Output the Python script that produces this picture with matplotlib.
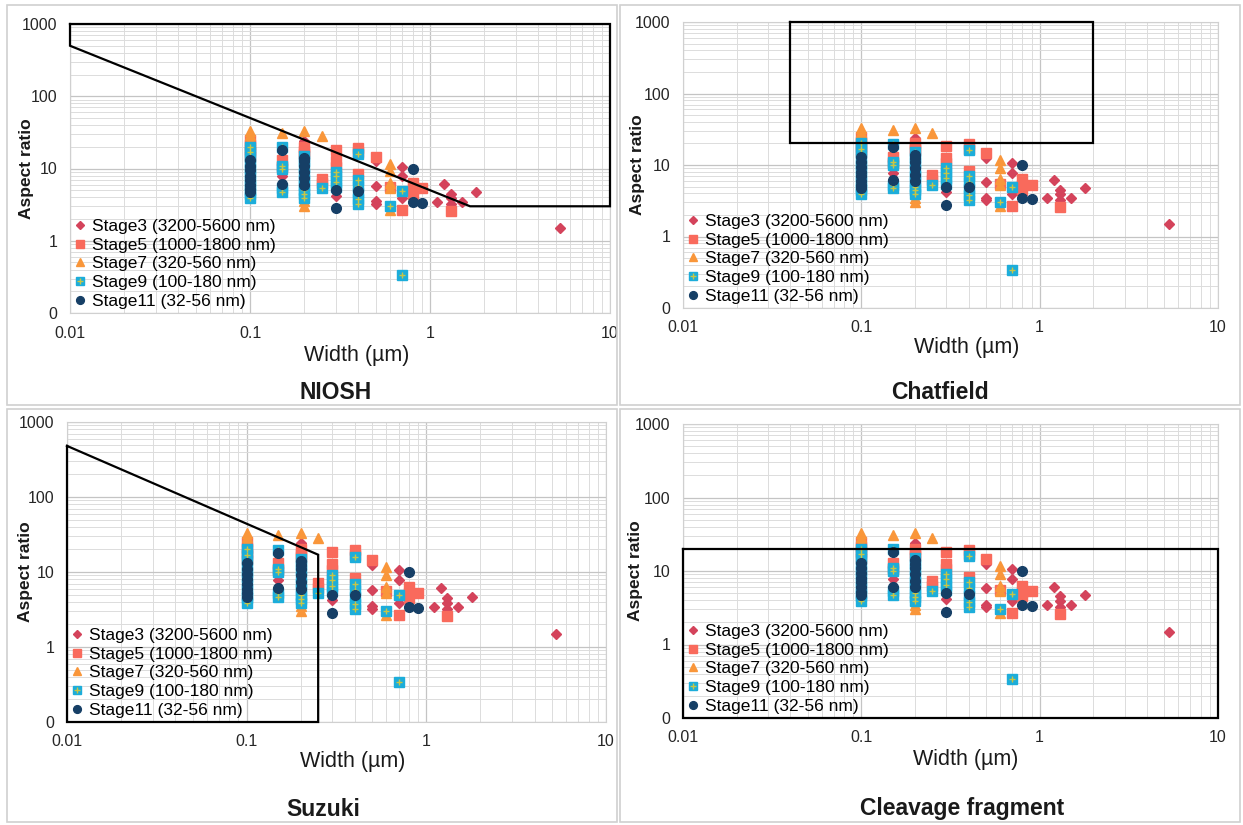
import matplotlib
matplotlib.use('Agg')
import matplotlib.pyplot as plt
from matplotlib.patches import Rectangle
from matplotlib.ticker import LogLocator, NullFormatter

plt.rcParams['font.family'] = ['Liberation Sans', 'DejaVu Sans']

# fibre width (um) and aspect ratio per impactor stage
stage3_w = [0.1, 0.1, 0.15, 0.2, 0.2, 0.25, 0.3, 0.5, 0.5, 0.5, 0.5,
            0.7, 0.7, 0.7, 1.1, 1.2, 1.3, 1.3, 1.3, 1.5, 1.8, 5.3]
stage3_ar = [22, 18, 7.8, 24, 17, 7.2, 4.2, 12.5, 5.8, 3.5, 3.2,
             10.5, 7.8, 3.9, 3.4, 6.1, 4.5, 3.9, 3.2, 3.4, 4.7, 1.5]

stage5_w = [0.1, 0.1, 0.1, 0.1, 0.15, 0.15, 0.2, 0.2, 0.2, 0.25, 0.25,
            0.3, 0.3, 0.3, 0.4, 0.4, 0.4, 0.5, 0.6, 0.7, 0.8, 0.8, 0.8, 0.9, 1.3]
stage5_ar = [25, 21, 18, 15, 13, 10.5, 20, 17.5, 16, 7.2, 6.2,
             18.3, 12.6, 10.5, 19.5, 17, 8.3, 14.5, 5.5, 2.65, 6.3, 5.2, 4.5, 5.3, 2.6]

stage7_w = [0.1, 0.1, 0.1, 0.1, 0.1, 0.15, 0.2, 0.2, 0.2, 0.25, 0.3,
            0.4, 0.6, 0.6, 0.6, 0.6, 0.6]
stage7_ar = [33, 29, 25, 21, 17, 31, 33, 3.5, 3.0, 28, 7.5,
             6, 11.7, 9.1, 6.3, 5.3, 2.7]

stage9_w = [0.1, 0.1, 0.1, 0.1, 0.1, 0.1, 0.1, 0.1, 0.1, 0.1, 0.1,
            0.15, 0.15, 0.15, 0.15, 0.15,
            0.2, 0.2, 0.2, 0.2, 0.2, 0.2, 0.2, 0.2, 0.2,
            0.25, 0.3, 0.3, 0.3, 0.3,
            0.4, 0.4, 0.4, 0.4, 0.4, 0.4, 0.6, 0.7, 0.7]
stage9_ar = [20, 17, 14.5, 12, 10, 8.5, 7, 6, 5, 4.5, 3.9,
             19.8, 11, 9.9, 5.3, 4.7,
             15, 12.5, 10.5, 8.5, 7, 6, 5, 4.4, 3.9,
             5.3, 9, 7.8, 6.5, 5.5,
             16, 7, 5.8, 4.6, 3.8, 3.2, 3.0, 4.9, 0.34]

stage11_w = [0.1, 0.1, 0.1, 0.1, 0.1, 0.1, 0.1, 0.1, 0.15, 0.15,
             0.2, 0.2, 0.2, 0.2, 0.2, 0.2, 0.3, 0.3, 0.4, 0.8, 0.8, 0.9]
stage11_ar = [13, 11, 9.5, 8, 7, 6, 5.2, 4.7, 18, 6.1,
              14, 12.5, 11, 9, 7.3, 6, 5, 2.8, 4.9, 10, 3.4, 3.3]

stage_labels = ['Stage3 (3200-5600 nm)', 'Stage5 (1000-1800 nm)', 'Stage7 (320-560 nm)',
                'Stage9 (100-180 nm)', 'Stage11 (32-56 nm)']

# fibre definition regions (width, aspect ratio outline)
niosh_w = [0.01, 10, 10, 1.67, 0.01, 0.01]
niosh_ar = [1000, 1000, 3, 3, 500, 1000]
chatfield_w = [0.04, 2, 2, 0.04, 0.04]
chatfield_ar = [1000, 1000, 20, 20, 1000]
suzuki_w = [0.01, 0.25, 0.25, 0.01, 0.01]
suzuki_ar = [480, 17, 0.1, 0.1, 480]
cleavage_w = [0.01, 10, 10, 0.01, 0.01]
cleavage_ar = [20, 20, 0.1, 0.1, 20]

panel_titles = ['NIOSH', 'Chatfield', 'Suzuki', 'Cleavage fragment']
x_ticks = [0.01, 0.1, 1, 10]
x_ticklabels = ['0.01', '0.1', '1', '10']
y_ticks = [0.1, 1, 10, 100, 1000]
y_ticklabels = ['0', '1', '10', '100', '1000']

W, H = 1243, 825
fig = plt.figure(figsize=(W / 100, H / 100), dpi=100)


def px(x0, y0, x1, y1):
    return [x0 / W, 1 - y1 / H, (x1 - x0) / W, (y1 - y0) / H]


panels = [
    dict(box=(70, 24, 610, 313), w=niosh_w, ar=niosh_ar, title_xy=(336, 393),
         frame=(7, 5, 617, 405), ylab_x=34, xlab_xy=(357, 355)),
    dict(box=(683, 22, 1218, 308), w=chatfield_w, ar=chatfield_ar, title_xy=(940, 393),
         frame=(620, 5, 1240, 405), ylab_x=645, xlab_xy=(967, 347)),
    dict(box=(67, 422, 606, 722), w=suzuki_w, ar=suzuki_ar, title_xy=(323, 809),
         frame=(7, 409, 617, 822), ylab_x=33, xlab_xy=(353, 762)),
    dict(box=(683, 424, 1218, 718), w=cleavage_w, ar=cleavage_ar, title_xy=(962, 808),
         frame=(620, 409, 1240, 822), ylab_x=643, xlab_xy=(966, 760)),
]

c3, c5, c7, c9, c9p, c11 = '#D4435B', '#F96A5C', '#F9963A', '#1CADDA', '#C9C544', '#163F66'

for p, title in zip(panels, panel_titles):
    x0, y0, x1, y1 = p['frame']
    fig.add_artist(Rectangle((x0 / W, 1 - y1 / H), (x1 - x0) / W, (y1 - y0) / H,
                             transform=fig.transFigure, fill=False,
                             edgecolor='#D0D0D0', linewidth=1.2))
    bx0, by0, bx1, by1 = p['box']
    ax = fig.add_axes(px(bx0, by0, bx1, by1))
    ax.set_xscale('log')
    ax.set_yscale('log')
    ax.set_xlim(0.01, 10)
    ax.set_ylim(0.1, 1000)

    h3, = ax.plot(stage3_w, stage3_ar, 'D', color=c3, ms=5.5, ls='none', zorder=3)
    h5, = ax.plot(stage5_w, stage5_ar, 's', color=c5, ms=7, ls='none', zorder=3)
    h7, = ax.plot(stage7_w, stage7_ar, '^', color=c7, ms=7.5, ls='none', zorder=3)
    h9, = ax.plot(stage9_w, stage9_ar, 's', color=c9, ms=7, ls='none', zorder=3)
    h9p, = ax.plot(stage9_w, stage9_ar, '+', color=c9p, ms=5, mew=1.0, ls='none', zorder=3)
    h11, = ax.plot(stage11_w, stage11_ar, 'o', color=c11, ms=7, ls='none', zorder=3)

    ax.plot(p['w'], p['ar'], color='black', lw=1.6, zorder=4, clip_on=False,
            solid_joinstyle='miter')

    ax.set_xticks(x_ticks)
    ax.set_xticklabels(x_ticklabels)
    ax.set_yticks(y_ticks)
    ax.set_yticklabels(y_ticklabels)
    ax.xaxis.set_minor_locator(LogLocator(base=10, subs=range(2, 10), numticks=20))
    ax.yaxis.set_minor_locator(LogLocator(base=10, subs=range(2, 10), numticks=20))
    ax.xaxis.set_minor_formatter(NullFormatter())
    ax.yaxis.set_minor_formatter(NullFormatter())
    ax.tick_params(which='both', length=0, labelsize=11.5, colors='#262626')
    ax.tick_params(axis='x', pad=9)
    ax.tick_params(axis='y', pad=9)
    ax.grid(True, which='major', color='#C4C4C4', lw=0.9)
    ax.grid(True, which='minor', color='#DCDCDC', lw=0.7)
    ax.set_axisbelow(True)
    for s in ax.spines.values():
        s.set_color('#D0D0D0')
        s.set_linewidth(0.8)

    lx, ly = p['xlab_xy']
    ax.set_xlabel('Width (\u00b5m)', fontsize=15.5, color='#1a1a1a', va='center')
    ax.xaxis.set_label_coords((lx - bx0) / (bx1 - bx0), (by1 - ly) / (by1 - by0))
    ax.set_ylabel('Aspect ratio', fontsize=12.5, fontweight='bold', color='#1a1a1a')
    ax.yaxis.set_label_coords((p['ylab_x'] - bx0) / (bx1 - bx0), 0.5)

    ax.legend([h3, h5, h7, (h9, h9p), h11], stage_labels, loc='lower left',
              frameon=False, fontsize=12.5, handlelength=0.7, handletextpad=0.3,
              labelspacing=0.2, borderaxespad=0.1, borderpad=0.15,
              markerscale=0.8)

    tx, ty = p['title_xy']
    fig.text(tx / W, 1 - ty / H, title, ha='center', va='center',
             fontsize=16.5, fontweight='bold', color='#1a1a1a')

fig.savefig('out.png', dpi=100)
